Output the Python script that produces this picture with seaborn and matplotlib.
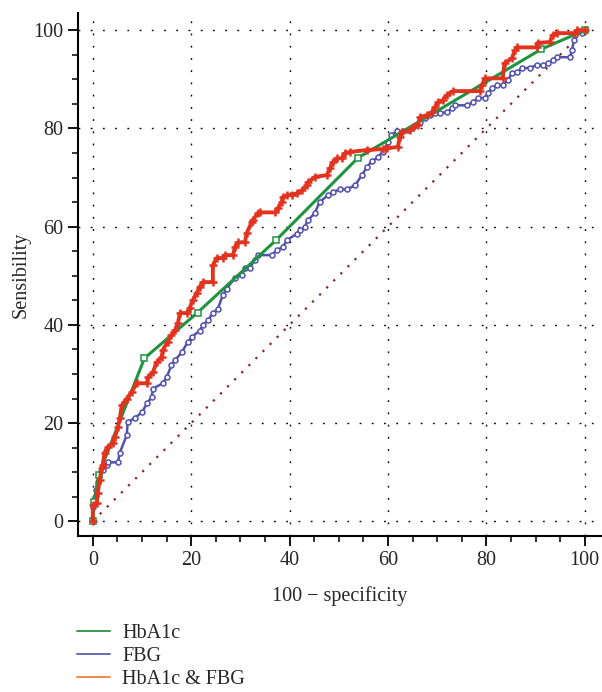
import matplotlib
matplotlib.use("Agg")
import matplotlib.pyplot as plt
from matplotlib.lines import Line2D
from matplotlib.ticker import MultipleLocator
import seaborn as sns

# ROC曲線のデータ
hba1c_x = [0, 0.3, 1.2, 10.5, 21.3, 37.2, 53.9, 91.1, 100]
hba1c_y = [0, 4, 9.5, 33.2, 42.5, 57.2, 74.0, 96.1, 100]

fbg_x = [0, 0, 0.4, 0.6, 1, 2, 2.8, 3.0, 5.1, 5.5, 6.9, 7.1, 8.5, 10, 11, 12, 12.2, 14.2,
         15, 16, 16.7, 18.1, 19.3, 20.1, 21.7, 22.4, 23.4, 24.4, 25.4, 26.4, 27.2, 28.9,
         30.3, 30.9, 31.9, 32.9, 33.5, 36.4, 37.4, 38.6, 39.4, 41.5, 42.1, 43.1, 43.7,
         45.1, 46.1, 47.8, 48.8, 50.2, 51.6, 53.3, 54.7, 55.7, 56.7, 57.9, 58.9, 60, 60.6,
         61.8, 63, 64, 65, 66.5, 67.5, 68.5, 69.5, 70.5, 72, 73, 73.6, 76, 77.2, 78.3,
         79.7, 80.3, 81.1, 82.1, 83.3, 84.3, 85.2, 86.2, 87.2, 88.8, 90.2, 91.5, 92.5,
         93.5, 94.3, 97, 97.4, 97.8, 98, 99.4, 100]
fbg_y = [0, 2.9, 4.9, 6.3, 8, 10.4, 11.4, 12, 12, 14, 17.5, 20.2, 21, 22.2, 24, 25.3, 27, 28.1,
         29.3, 31.8, 32.8, 34.4, 36.5, 37.5, 38.8, 39.9, 40.9, 42.4, 43.2, 46, 47.4, 49.5,
         50.1, 51.5, 51.5, 53.2, 54.2, 54.2, 55.2, 55.8, 57.2, 58.6, 59.3, 59.9, 61.3,
         62.7, 65, 66.4, 67, 67.6, 67.6, 68.4, 70.5, 72.1, 73.3, 74.1, 75.2, 77.2, 78.6,
         79.4, 79.4, 79.6, 80.2, 81.3, 82.1, 82.7, 83.1, 83.1, 83.3, 84.1, 84.7, 84.7, 85.3, 86.2,
         86.2, 87.2, 88.2, 88.8, 88.8, 89.8, 91.2, 91.4, 92.3, 92.3, 92.9, 92.9, 93.3,
         93.9, 94.5, 94.5, 95.9, 98, 99, 99.4, 100]

combo_x = [0, 0, 0.8, 1, 1.4, 1.8, 2, 2.4, 3, 4.1, 4.5, 5.1, 5.5, 5.9, 6.9, 7.9, 8.9, 11, 11.2,
           12.2, 13, 14, 14.2, 15.2, 16, 16.7, 17.3, 17.7, 19.1, 19.7, 20.3, 21.1, 21.7, 22.4,
           24.4, 24.4, 25.2, 26.4, 26.8, 28.5, 28.9, 29.5, 30.9, 31.3, 32.3, 32.5, 33.5, 33.9,
           37, 37.6, 38.4, 38.6, 39.4, 40.4, 41.5, 42.5, 43.5, 43.7, 45.1, 47.6, 48.2, 48.8,
           49.6, 50.6, 51.2, 52.2, 55.7, 58.9, 59.8, 62, 62.4, 62.8, 64.4, 65, 66.1, 66.5,
           67.9, 68.9, 69.5, 70.1, 71.1, 72, 73.2, 78.7, 79.1, 79.7, 83.3, 83.7, 85.2, 85.8,
           86.2, 90.2, 90.4, 92.9, 93.5, 94.3, 98, 98.4, 100]
combo_y = [0, 3.3, 3.7, 5.7, 8.4, 10.8, 11.4, 14, 15.1, 15.9, 17.1, 19.1, 21, 23.6, 25, 26.3,
           28.1, 28.1, 29.3, 30.3, 32.4, 33.4, 34.8, 36.5, 37.9, 38.9, 40.3, 42.4, 42.4, 43.4,
           45, 46.4, 47.7, 48.7, 48.7, 52.1, 53.6, 53.6, 54.2, 54.2, 55.8, 56.8, 56.8, 58.7,
           60.9, 61.3, 62.7, 62.9, 62.9, 63.7, 65, 66, 66.4, 66.4, 66.8, 67.4, 68.4, 69, 70.1,
           70.5, 71.9, 73.1, 73.9, 73.9, 74.9, 75.2, 75.6, 75.8, 76, 76.2, 78.2, 79.2, 79.6,
           80.2, 80.7, 82.3, 82.7, 83.3, 84.3, 85.3, 85.7, 86.8, 87.6, 87.6, 88.8, 90.2, 90.2,
           93.3, 94.3, 95.9, 96.5, 96.5, 97.4, 97.6, 99, 99.4, 99.4, 100, 100]

ref_x = [0, 100]
ref_y = [0, 100]

sns.set_theme(style="ticks")
plt.rcParams["font.family"] = ["Liberation Serif", "DejaVu Serif"]

fig = plt.figure(figsize=(6.02, 6.92), dpi=100)
ax = fig.add_axes([0.1296, 0.2254, 0.8704, 0.7558])

# グリッド (点線)
for v in range(0, 101, 20):
    ax.axvline(v, color="black", lw=1, ls=(0, (1.3, 7.5)), zorder=0)
    ax.axhline(v, color="black", lw=1, ls=(0, (1.3, 7.5)), zorder=0)

# 対角線
sns.lineplot(x=ref_x, y=ref_y, ax=ax, color="#8B2323", lw=1.6, ls=(0, (1, 3.5)), zorder=1)

sns.lineplot(x=fbg_x, y=fbg_y, ax=ax, sort=False, estimator=None, color="#5252AE", lw=1.8,
             marker="o", markersize=3.6, markerfacecolor="white", markeredgecolor="#5252AE",
             markeredgewidth=1.1, zorder=3)
sns.lineplot(x=hba1c_x, y=hba1c_y, ax=ax, sort=False, estimator=None, color="#1E9440", lw=2.2,
             marker="s", markersize=4.5, markerfacecolor="white", markeredgecolor="#1E9440",
             markeredgewidth=1.1, zorder=4)
sns.lineplot(x=combo_x, y=combo_y, ax=ax, sort=False, estimator=None, color="#E2331F", lw=2.8,
             marker="+", markersize=6, markeredgecolor="#E2331F", markeredgewidth=1.8, zorder=5)

ax.set_xlim(-3, 103.5)
ax.set_ylim(-3, 103.5)
ax.xaxis.set_major_locator(MultipleLocator(20))
ax.yaxis.set_major_locator(MultipleLocator(20))
ax.xaxis.set_minor_locator(MultipleLocator(5))
ax.yaxis.set_minor_locator(MultipleLocator(5))
ax.tick_params(which="major", length=7, width=1.3, labelsize=14.5, direction="out", color="black")
ax.tick_params(which="minor", length=4, width=1.1, direction="out", color="black")
for s in ["top", "right"]:
    ax.spines[s].set_visible(False)
for s in ["left", "bottom"]:
    ax.spines[s].set_linewidth(1.5)
    ax.spines[s].set_color("black")
ax.set_xlabel("100 \u2212 specificity", fontsize=14.5, labelpad=12)
ax.set_ylabel("Sensibility", fontsize=14.5, labelpad=2)

handles = [Line2D([], [], color="#3A9A50", lw=1.4),
           Line2D([], [], color="#6A6AB4", lw=1.4),
           Line2D([], [], color="#F08A4B", lw=1.4)]
fig.legend(handles, ["HbA1c", "FBG", "HbA1c & FBG"], loc="upper left",
           bbox_to_anchor=(0.128, 0.099), frameon=False, fontsize=14.5, borderpad=0,
           borderaxespad=0, handlelength=1.65, handletextpad=0.6, labelspacing=0.2)

fig.savefig("out.png", dpi=100)
